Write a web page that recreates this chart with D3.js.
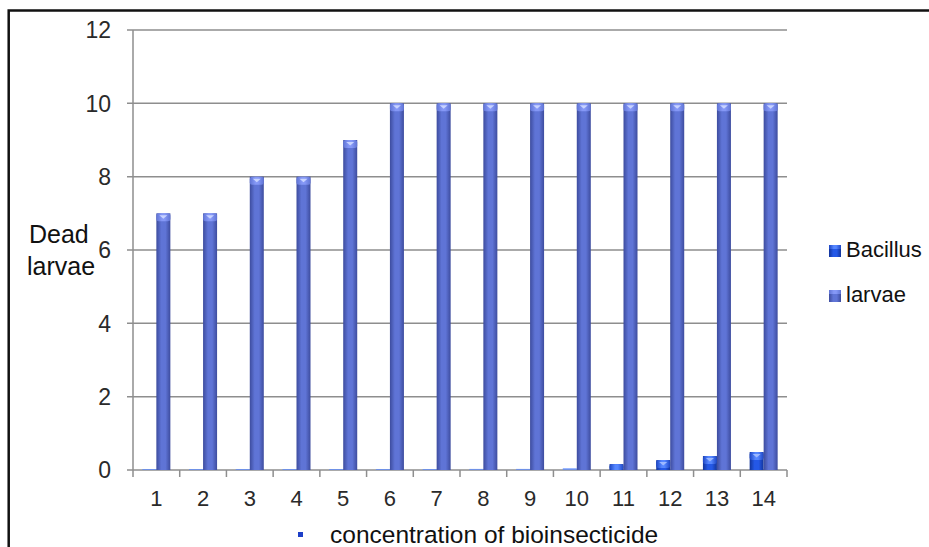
<!DOCTYPE html>
<html>
<head>
<meta charset="utf-8">
<script src="https://cdn.jsdelivr.net/npm/d3@7"></script>
<style>
  html, body { margin: 0; padding: 0; background: #fff; }
  svg { display: block; font-family: "Liberation Sans", Arial, sans-serif; }
</style>
</head>
<body>
<svg id="chart" width="929" height="547"></svg>
<script>
// Concentration levels of the bioinsecticide (x categories)
const categories = ["1","2","3","4","5","6","7","8","9","10","11","12","13","14"];
const seriesNames = ["Bacillus", "larvae"];
const bacillusValues = [0.01, 0.01, 0.01, 0.01, 0.01, 0.02, 0.02, 0.03, 0.03, 0.05, 0.16, 0.27, 0.38, 0.49];
const larvaeValues = [7, 7, 8, 8, 9, 10, 10, 10, 10, 10, 10, 10, 10, 10];
const yTicks = [0, 2, 4, 6, 8, 10, 12];

const svg = d3.select("#chart");
const plot = { left: 133, right: 787, top: 30, bottom: 470 };

const x = d3.scaleBand().domain(categories).range([plot.left, plot.right]).padding(0);
const y = d3.scaleLinear().domain([0, 12]).range([plot.bottom, plot.top]);
const barW = 14;
const inner = d3.scaleBand().domain(seriesNames).range([-barW, barW]).padding(0);

// Gradients giving the bars their rounded, shaded look
const defs = svg.append("defs");
const palettes = {
  Bacillus: { edge: "#12349a", mid: "#2458e6", cap: "#5586ff", capEdge: "#1d46c4", tri: "#9db9ff" },
  larvae:   { edge: "#3d4c9e", mid: "#5f74d6", cap: "#8598f6", capEdge: "#6074d4", tri: "#c8d3ff" }
};
seriesNames.forEach(name => {
  const p = palettes[name];
  const g = defs.append("linearGradient").attr("id", "body-" + name)
    .attr("x1", "0%").attr("x2", "100%").attr("y1", "0%").attr("y2", "0%");
  g.append("stop").attr("offset", "0%").attr("stop-color", p.edge);
  g.append("stop").attr("offset", "35%").attr("stop-color", p.mid);
  g.append("stop").attr("offset", "65%").attr("stop-color", p.mid);
  g.append("stop").attr("offset", "100%").attr("stop-color", p.edge);
  const c = defs.append("linearGradient").attr("id", "cap-" + name)
    .attr("x1", "0%").attr("x2", "100%").attr("y1", "0%").attr("y2", "0%");
  c.append("stop").attr("offset", "0%").attr("stop-color", p.capEdge);
  c.append("stop").attr("offset", "40%").attr("stop-color", p.cap);
  c.append("stop").attr("offset", "60%").attr("stop-color", p.cap);
  c.append("stop").attr("offset", "100%").attr("stop-color", p.capEdge);
});

// Outer frame
svg.append("rect").attr("x", 8.7).attr("y", 10.5).attr("width", 1000).attr("height", 1000)
  .attr("fill", "none").attr("stroke", "#111").attr("stroke-width", 2.5);

// Horizontal gridlines
const gridCol = "#8e8e8e";
svg.append("g").selectAll("line").data(yTicks).join("line")
  .attr("x1", plot.left - 6).attr("x2", plot.right)
  .attr("y1", d => y(d)).attr("y2", d => y(d))
  .attr("stroke", gridCol).attr("stroke-width", 1.5);

// Y axis line
svg.append("line").attr("x1", plot.left).attr("x2", plot.left)
  .attr("y1", plot.top).attr("y2", plot.bottom)
  .attr("stroke", gridCol).attr("stroke-width", 1.5);

// X axis tick marks at category boundaries
const boundaries = categories.map(c => x(c)).concat([x(categories[categories.length - 1]) + x.bandwidth()]);
svg.append("g").selectAll("line").data(boundaries).join("line")
  .attr("x1", d => d).attr("x2", d => d)
  .attr("y1", plot.bottom).attr("y2", plot.bottom + 7)
  .attr("stroke", gridCol).attr("stroke-width", 1.5);

// Y tick labels
svg.append("g").selectAll("text").data(yTicks).join("text")
  .attr("x", 111).attr("y", d => y(d)).attr("dy", "0.36em")
  .attr("text-anchor", "end").attr("font-size", 23).attr("fill", "#2a2a2a")
  .text(d => d);

// X tick labels
svg.append("g").selectAll("text").data(categories).join("text")
  .attr("x", d => x(d) + x.bandwidth() / 2).attr("y", 506)
  .attr("text-anchor", "middle").attr("font-size", 22).attr("fill", "#2a2a2a")
  .text(d => d);

// Bars
const rows = categories.map((c, i) => ({ cat: c, Bacillus: bacillusValues[i], larvae: larvaeValues[i] }));
const barsG = svg.append("g");
rows.forEach(r => {
  const cx = x(r.cat) + x.bandwidth() / 2;
  seriesNames.forEach(name => {
    const v = r[name];
    const x0 = cx + inner(name);
    const top = y(v), h = y(0) - y(v);
    if (h >= 3) {
      barsG.append("rect").attr("x", x0).attr("y", top).attr("width", barW).attr("height", h)
        .attr("fill", "url(#body-" + name + ")");
      const capH = Math.min(8, h);
      barsG.append("rect").attr("x", x0).attr("y", top).attr("width", barW).attr("height", capH)
        .attr("rx", 2.5).attr("fill", "url(#cap-" + name + ")");
      if (h >= 7) {
        barsG.append("path")
          .attr("d", `M${x0 + barW / 2 - 4},${top + 2}L${x0 + barW / 2 + 4},${top + 2}L${x0 + barW / 2},${top + 5.5}Z`)
          .attr("fill", palettes[name].tri);
      }
    } else {
      // very small values show only as a thin light sliver on the baseline
      barsG.append("rect").attr("x", x0).attr("y", y(0) - Math.max(h, 1)).attr("width", barW)
        .attr("height", Math.max(h, 1))
        .attr("fill", palettes[name].cap).attr("opacity", 0.7);
    }
  });
});

// Y axis title (two lines)
const yTitle = svg.append("text").attr("font-size", 25).attr("fill", "#111");
yTitle.append("tspan").attr("x", 29).attr("y", 243).text("Dead");
yTitle.append("tspan").attr("x", 27).attr("y", 275).text("larvae");

// X axis title with its small marker
svg.append("rect").attr("x", 298).attr("y", 532).attr("width", 5).attr("height", 5).attr("fill", "#1d3fc8");
svg.append("text").attr("x", 330).attr("y", 543).attr("font-size", 24.5).attr("fill", "#111")
  .text("concentration of bioinsecticide");

// Legend
const legend = svg.append("g");
const legendY = { Bacillus: 257, larvae: 302 };
seriesNames.forEach(name => {
  const by = legendY[name];
  legend.append("rect").attr("x", 829).attr("y", by - 12).attr("width", 12).attr("height", 12)
    .attr("fill", "url(#body-" + name + ")");
  legend.append("rect").attr("x", 829).attr("y", by - 12).attr("width", 12).attr("height", 4)
    .attr("fill", "url(#cap-" + name + ")");
  legend.append("text").attr("x", 846).attr("y", by).attr("font-size", 22).attr("fill", "#111")
    .text(name);
});
</script>
</body>
</html>
